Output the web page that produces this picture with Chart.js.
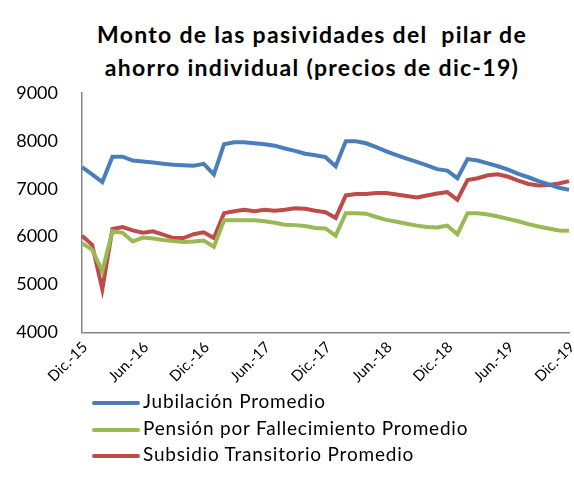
<!DOCTYPE html>
<html>
<head>
<meta charset="utf-8">
<script src="https://cdn.jsdelivr.net/npm/chart.js@4.4.1/dist/chart.umd.min.js"></script>
<style>
  body { margin: 0; background: #fff; }
  #wrap { position: relative; width: 574px; height: 494px; font-family: Lato, sans-serif; }
  #title { position: absolute; left: 62px; width: 500px; top: 18px; text-align: center;
           font-weight: bold; font-size: 23px; letter-spacing: 1.3px; line-height: 33px; color: #000; }
  #chartBox { position: absolute; left: 0; top: 0; width: 574px; height: 392px; }
  #legend { position: absolute; left: 92px; top: 388px; font-size: 19px; letter-spacing: 0.8px; color: #000; }
  #legend div { height: 26.5px; line-height: 26.5px; white-space: nowrap; }
  #legend span.ln { display: inline-block; width: 48px; height: 4px; vertical-align: middle; margin-right: 3px; border-radius: 2px; }
</style>
</head>
<body>
<div id="wrap">
  <div id="title">Monto de las pasividades del&nbsp; pilar de<br>ahorro individual (precios de dic-19)</div>
  <div id="chartBox"><canvas id="mainChart"></canvas></div>
  <div id="legend"></div>
</div>
<script>
// === DATOS ===
const mesesCortos = ['Ene.', 'Feb.', 'Mar.', 'Abr.', 'May.', 'Jun.', 'Jul.', 'Ago.', 'Sep.', 'Oct.', 'Nov.', 'Dic.'];
const primerMes = 11;   // Dic.
const primerAnio = 15;  // 2015
const numMeses = 49;

const yTicks = [4000, 5000, 6000, 7000, 8000, 9000];

const jubilacion = [
  7450, 7300, 7140, 7670, 7670, 7590, 7570, 7550, 7520, 7500, 7490, 7480, 7520,
  7300, 7930, 7970, 7970, 7950, 7930, 7900, 7840, 7790, 7730, 7700, 7660,
  7470, 7990, 7990, 7950, 7870, 7780, 7700, 7630, 7560, 7490, 7410, 7380,
  7220, 7620, 7590, 7530, 7470, 7400, 7310, 7240, 7160, 7090, 7020, 6980
];
const fallecimiento = [
  5860, 5730, 5280, 6110, 6080, 5900, 5980, 5960, 5930, 5910, 5890, 5900, 5920,
  5790, 6340, 6340, 6340, 6340, 6320, 6290, 6250, 6240, 6220, 6180, 6170,
  6020, 6490, 6490, 6480, 6410, 6350, 6310, 6270, 6230, 6200, 6190, 6230,
  6050, 6490, 6490, 6460, 6420, 6370, 6320, 6260, 6210, 6170, 6130, 6120
];
const subsidio = [
  6020, 5830, 4900, 6160, 6200, 6130, 6080, 6110, 6040, 5970, 5970, 6050, 6090,
  5970, 6490, 6530, 6560, 6530, 6560, 6540, 6560, 6590, 6580, 6540, 6510,
  6390, 6860, 6890, 6890, 6910, 6910, 6880, 6850, 6820, 6860, 6900, 6930,
  6770, 7180, 7220, 7280, 7300, 7250, 7170, 7100, 7070, 7080, 7110, 7160
];

const series = [
  { label: 'Jubilación Promedio', data: jubilacion, color: '#4a7ebb' },
  { label: 'Pensión por Fallecimiento Promedio', data: fallecimiento, color: '#98b954' },
  { label: 'Subsidio Transitorio Promedio', data: subsidio, color: '#be4b48' }
];

// etiquetas mensuales Dic.-15 ... Dic.-19
const etiquetas = [];
for (let i = 0; i < numMeses; i++) {
  const m = (primerMes + i) % 12;
  const a = primerAnio + Math.floor((primerMes + i) / 12);
  etiquetas.push(mesesCortos[m] + '-' + a);
}

// === GRAFICO ===
const ctx = document.getElementById('mainChart').getContext('2d');
const gris = '#868686';

new Chart(ctx, {
  type: 'line',
  data: {
    labels: etiquetas,
    datasets: series.map(s => ({
      label: s.label,
      data: s.data,
      borderColor: s.color,
      backgroundColor: s.color,
      borderWidth: 4,
      pointRadius: 0,
      tension: 0,
      fill: false
    }))
  },
  options: {
    responsive: true,
    maintainAspectRatio: false,
    animation: false,
    layout: { padding: { top: 93, left: 0, right: 5, bottom: 0 } },
    plugins: {
      legend: { display: false },
      title: { display: false },
      tooltip: { enabled: false }
    },
    scales: {
      x: {
        offset: false,
        grid: { display: false, drawTicks: false },
        border: { display: true, color: gris, width: 1.5 },
        // sin relleno extra por las etiquetas giradas
        afterFit: axis => { axis.paddingLeft = 0; axis.paddingRight = 0; },
        ticks: {
          autoSkip: false,
          maxRotation: 45,
          minRotation: 45,
          padding: 6,
          labelOffset: 3,
          color: '#000',
          font: { family: 'Lato', size: 15 },
          callback: function (val, i) { return i % 6 === 0 ? etiquetas[i] : ''; }
        }
      },
      y: {
        min: yTicks[0],
        max: yTicks[yTicks.length - 1],
        afterBuildTicks: axis => { axis.ticks = yTicks.map(v => ({ value: v })); },
        afterFit: axis => { axis.width = 82; },
        grid: { display: false, drawTicks: false },
        border: { display: true, color: gris, width: 1.5 },
        ticks: {
          padding: 24,
          color: '#000',
          font: { family: 'Lato', size: 18 },
          callback: v => String(v)
        }
      }
    }
  }
});

// === LEYENDA ===
const leyenda = document.getElementById('legend');
series.forEach(s => {
  const fila = document.createElement('div');
  const linea = document.createElement('span');
  linea.className = 'ln';
  linea.style.background = s.color;
  fila.appendChild(linea);
  fila.appendChild(document.createTextNode(s.label));
  leyenda.appendChild(fila);
});
</script>
</body>
</html>
